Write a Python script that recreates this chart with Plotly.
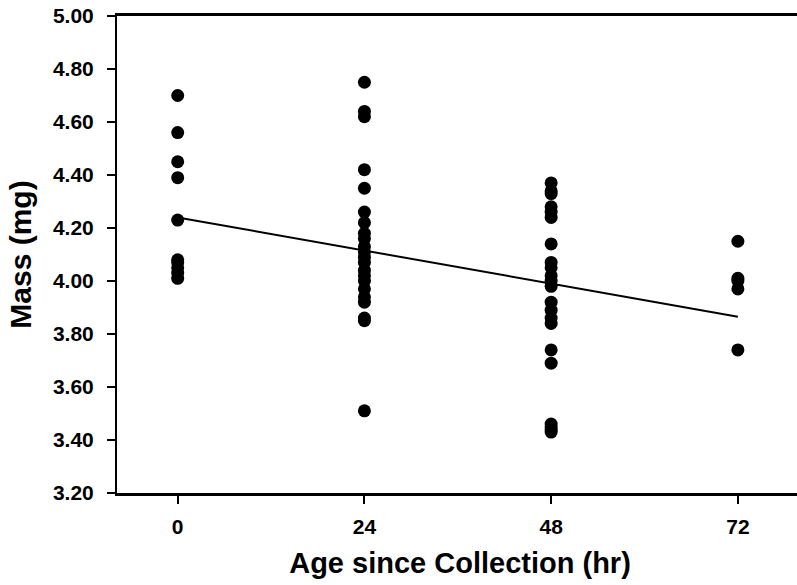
import plotly.graph_objects as go

# Data
age_0 = [4.70, 4.56, 4.45, 4.39, 4.23, 4.08, 4.07, 4.05, 4.03, 4.01]
age_24 = [4.75, 4.64, 4.62, 4.42, 4.35, 4.26, 4.22, 4.18, 4.16, 4.13, 4.11,
          4.09, 4.07, 4.04, 4.02, 4.00, 3.97, 3.94, 3.92, 3.86, 3.85, 3.51]
age_48 = [4.37, 4.34, 4.33, 4.28, 4.26, 4.24, 4.14, 4.07, 4.05, 4.02, 4.00,
          3.98, 3.92, 3.89, 3.86, 3.84, 3.74, 3.69, 3.46, 3.45, 3.44, 3.43]
age_72 = [4.15, 4.01, 4.00, 3.97, 3.74]
groups = [0, 24, 48, 72]
trend_x = [0, 72]
trend_y = [4.24, 3.865]
x_ticks = [0, 24, 48, 72]
y_ticks = [3.2, 3.4, 3.6, 3.8, 4.0, 4.2, 4.4, 4.6, 4.8, 5.0]

xs, ys = [], []
for g, vals in zip(groups, [age_0, age_24, age_48, age_72]):
    xs += [g] * len(vals)
    ys += vals

fig = go.Figure()
fig.add_trace(go.Scatter(x=xs, y=ys, mode="markers",
                         marker=dict(color="black", size=13), showlegend=False))
fig.add_trace(go.Scatter(x=trend_x, y=trend_y, mode="lines",
                         line=dict(color="black", width=2), showlegend=False))

font_family = "Liberation Sans, Arial, sans-serif"
# plot area runs slightly past the right edge of the window (the reference frame is cut off there)
fig.update_layout(
    width=803, height=585,
    margin=dict(l=117, r=0, t=16, b=92),
    plot_bgcolor="white", paper_bgcolor="white",
    font=dict(family=font_family, color="black"),
    xaxis=dict(range=[-7.8, 80.37], tickvals=x_ticks,
               ticktext=[f"<b>{t}</b>" for t in x_ticks],
               showline=True, linecolor="black", linewidth=2.5, mirror=True,
               ticks="outside", ticklen=8, tickwidth=2, tickcolor="black",
               showgrid=False, zeroline=False, ticklabelstandoff=5,
               automargin=False,
               tickfont=dict(size=21, family=font_family),
               title=dict(text="<b>Age since Collection (hr)</b>",
                          font=dict(size=29, family=font_family), standoff=16)),
    yaxis=dict(range=[3.2, 5.0], tickvals=y_ticks,
               ticktext=[f"<b>{t:.2f}</b>" for t in y_ticks],
               showline=True, linecolor="black", linewidth=2,
               ticks="outside", ticklen=8, tickwidth=2, tickcolor="black",
               showgrid=False, zeroline=False, ticklabelstandoff=9,
               automargin=False,
               tickfont=dict(size=21, family=font_family),
               title=dict(text="<b>Mass (mg)</b>",
                          font=dict(size=30, family=font_family), standoff=12)),
)
# remove the browser's default 8px body margin so the figure sits at the page origin
fig.write_html("out.html", config={"displayModeBar": False},
               post_script="document.body.style.margin='0px';document.body.style.overflow='hidden';")
